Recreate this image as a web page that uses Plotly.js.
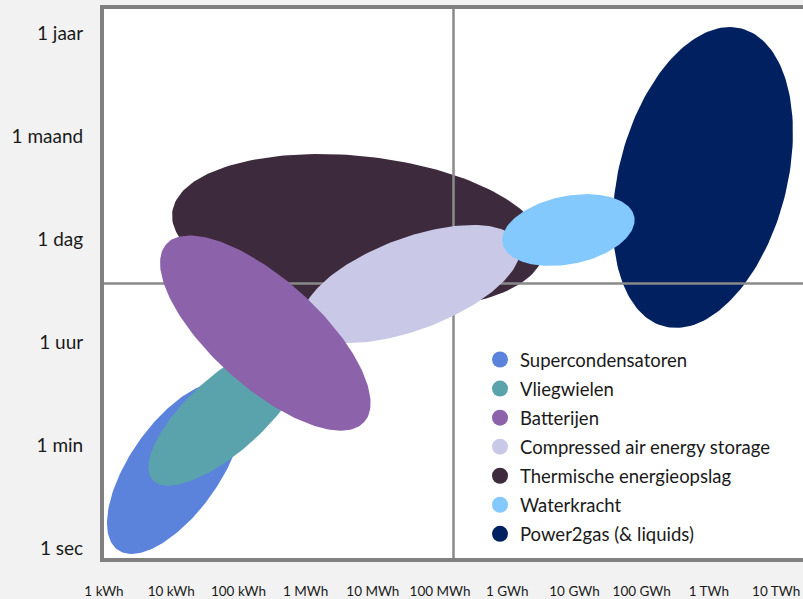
<!DOCTYPE html>
<html><head><meta charset="utf-8">
<script src="https://cdn.plot.ly/plotly-3.0.1.min.js"></script>
<style>html,body{margin:0;padding:0;background:#f2f2f2;overflow:hidden}</style>
</head><body><div id="chart" style="width:803px;height:599px"></div>
<script>
// --- data ---
const technologies = ['Supercondensatoren','Vliegwielen','Batterijen','Compressed air energy storage','Thermische energieopslag','Waterkracht','Power2gas (& liquids)'];
// centre of each technology's region: energy in log10(kWh), duration on the tick index scale (0 = 1 sec ... 5 = 1 jaar)
const energyCentre   = [1.06, 1.83, 2.40, 4.57, 3.78, 6.91, 8.91];
const durationCentre = [0.777, 1.311, 2.087, 2.563, 3.068, 3.087, 3.597];
// half lengths of the long and short ellipse axes (in decades) and the tilt in degrees
const majorHalf = [1.49, 1.49, 1.98, 1.71, 2.78, 1.00, 2.29];
const minorHalf = [0.67, 0.565, 0.80, 0.685, 1.13, 0.506, 1.25];
const tiltDeg   = [55, 42, -42, 20.5, -6, 11.5, 75.4];
const xTickLabels = ['1 kWh','10 kWh','100 kWh','1 MWh','10 MWh','100 MWh','1 GWh','10 GWh','100 GWh','1 TWh','10 TWh'];
const yTickLabels = ['1 sec','1 min','1 uur','1 dag','1 maand','1 jaar'];

// --- style ---
const colors = ['#5b83db','#5aa3ad','#8c63aa','#c9c9e7','#3e2a3d','#83c9fe','#012060'];
const drawOrder = [4, 6, 'grid', 3, 5, 0, 1, 2];

const W = 803, H = 599;
const M = {l: 104, r: 0, t: 9, b: 41};
const xRange = [0, 10.40];
const yRange = [-0.097, 5.233];
const pxX = (W - M.l - M.r) / (xRange[1] - xRange[0]);
const pxY = (H - M.t - M.b) / (yRange[1] - yRange[0]);
const K = pxY / pxX;

function ellipse(i) {
  const xs = [], ys = [];
  const th = tiltDeg[i] * Math.PI / 180;
  for (let k = 0; k <= 180; k++) {
    const t = 2 * Math.PI * k / 180;
    const u = majorHalf[i] * Math.cos(t), v = minorHalf[i] * Math.sin(t);
    const dx = u * Math.cos(th) - v * Math.sin(th);
    const dy = u * Math.sin(th) + v * Math.cos(th);
    xs.push(energyCentre[i] + dx);
    ys.push(durationCentre[i] + dy / K);
  }
  return {x: xs, y: ys};
}

const traces = [];
const xMid = (xRange[0] + xRange[1]) / 2, yMid = (yRange[0] + yRange[1]) / 2;
drawOrder.forEach(i => {
  if (i === 'grid') {
    traces.push({x: [xMid, xMid], y: [yRange[0] - 1, yRange[1] + 1], mode: 'lines', line: {color: '#8a8a8a', width: 2.5}, hoverinfo: 'skip', showlegend: false});
    traces.push({x: [xRange[0] - 1, xRange[1] + 1], y: [yMid, yMid], mode: 'lines', line: {color: '#8a8a8a', width: 2.5}, hoverinfo: 'skip', showlegend: false});
    return;
  }
  const e = ellipse(i);
  traces.push({x: e.x, y: e.y, mode: 'lines', fill: 'toself', fillcolor: colors[i], line: {width: 0, color: colors[i]}, name: technologies[i], showlegend: false, hoverinfo: 'name'});
});
technologies.forEach((name, i) => {
  traces.push({x: [null], y: [null], mode: 'markers', marker: {size: 16, color: colors[i]}, name: name, showlegend: true, legendgroup: 'g' + i, legendrank: i + 1});
});

const layout = {
  width: W, height: H,
  margin: M,
  paper_bgcolor: '#f2f2f2', plot_bgcolor: '#ffffff',
  font: {family: 'Lato, "Noto Sans", sans-serif', color: '#1a1a1a'},
  showlegend: true,
  legend: {x: (480 - M.l) / (W - M.l - M.r), y: 1 - (341 - M.t) / (H - M.t - M.b), xanchor: 'left', yanchor: 'top',
           traceorder: 'grouped', tracegroupgap: 2,
           bgcolor: 'rgba(0,0,0,0)', font: {size: 18.5, color: '#1a1a1a'}},
  xaxis: {range: xRange, tickmode: 'array', tickvals: xTickLabels.map((_, i) => i), ticktext: xTickLabels,
          showgrid: false, zeroline: false, showline: true, linewidth: 4, linecolor: '#808080', mirror: true,
          ticks: 'outside', ticklen: 18, tickcolor: 'rgba(0,0,0,0)', tickfont: {size: 13.5}, fixedrange: true},
  yaxis: {range: yRange, tickmode: 'array', tickvals: yTickLabels.map((_, i) => i), ticktext: yTickLabels,
          showgrid: false, zeroline: false, showline: true, linewidth: 4, linecolor: '#808080',
          ticks: 'outside', ticklen: 13, tickcolor: 'rgba(0,0,0,0)', tickfont: {size: 19}, fixedrange: true}
};
Plotly.newPlot('chart', traces, layout, {displayModeBar: false, staticPlot: true});
</script></body></html>
